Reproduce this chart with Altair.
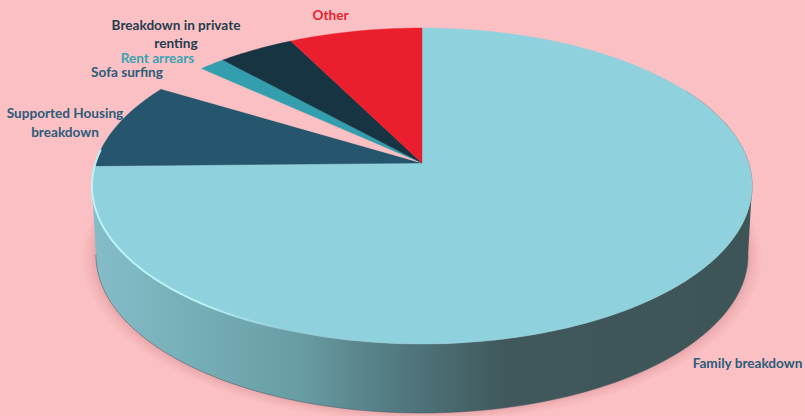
import math
import altair as alt

# Causes of homelessness, share of cases in percent, clockwise from 12 o'clock
slices = ["Family breakdown", "Supported Housing breakdown", "Sofa surfing",
          "Rent arrears", "Breakdown in private renting", "Other"]
shares = [74.7, 8.9, 3.1, 1.5, 4.3, 7.5]
slice_colors = ["#8fd1dc", "#25566e", "#fbc0c3", "#339fae", "#173443", "#ea1e2c"]

label_lines = [
    ("Other", 330.5, 16, "#ea1e2c"),
    ("Breakdown in private", 176, 26, "#1f3d4e"),
    ("renting", 176, 44, "#1f3d4e"),
    ("Rent arrears", 157.5, 59, "#3aa3b4"),
    ("Sofa surfing", 127, 73, "#2b5c7a"),
    ("Supported Housing", 65, 114, "#2b5c7a"),
    ("breakdown", 65, 133, "#2b5c7a"),
    ("Family breakdown", 747.5, 364, "#2b5c7a"),
]

WIDTH, HEIGHT = 805, 416
BACKGROUND = "#fbc0c3"

# Tilted-disc projection: the unit circle seen in perspective
CX, APEX_Y = 422, 163
RX, RY, TILT = 326.5, 130.9, 0.1456
DEPTH, BOTTOM_SHRINK = 69, 0.988


def project(theta, radius=1.0, drop=0.0, shrink=1.0, grow=0.0):
    """Map an angle (clockwise from 12 o'clock) on the disc to the canvas."""
    u = radius * math.sin(theta)
    v = radius * math.cos(theta)
    w = 1 + TILT * v
    x = CX + (RX * shrink + grow) * u / w
    y = (APEX_Y - (RY + grow * 0.45) * v) / w + drop
    return [round(x, 2), round(y, 2)]


def arc(start, end, n=120, **kw):
    return [project(start + (end - start) * i / n, **kw) for i in range(n + 1)]


def feature(kind, coords, **props):
    return {"type": "Feature", "properties": props,
            "geometry": {"type": kind, "coordinates": coords}}


def shapes(features, **mark):
    return alt.Chart(alt.Data(values=features)).mark_geoshape(**mark).project(
        type="identity", scale=1, translate=[0, 0])


# Pie slices on the top face
total = sum(shares)
slice_features = []
cumulative = 0.0
for name, share in zip(slices, shares):
    a0 = 2 * math.pi * cumulative / total
    cumulative += share
    a1 = 2 * math.pi * cumulative / total
    n = max(8, int(share * 4))
    ring = [project(0, radius=0)] + arc(a0, a1, n=n) + [project(0, radius=0)]
    slice_features.append(feature("Polygon", [ring], slice=name))

top = shapes(slice_features, strokeWidth=0.4).encode(
    color=alt.Color("properties.slice:N",
                    scale=alt.Scale(domain=slices, range=slice_colors),
                    legend=None),
    stroke=alt.Stroke("properties.slice:N",
                      scale=alt.Scale(domain=slices, range=slice_colors),
                      legend=None),
)

# Visible side wall: front half of the rim down to the lower rim
widest = math.acos(-TILT)
upper_edge = arc(widest, 2 * math.pi - widest)
lower_edge = arc(widest, 2 * math.pi - widest, drop=DEPTH, shrink=BOTTOM_SHRINK)
wall_ring = upper_edge + lower_edge[::-1] + [upper_edge[0]]

wall_gradient = alt.LinearGradient(
    gradient="linear", x1=0, x2=1, y1=0, y2=0,
    stops=[
        alt.GradientStop(offset=0.0, color="#84bcc8"),
        alt.GradientStop(offset=0.16, color="#76aeb7"),
        alt.GradientStop(offset=0.315, color="#689da4"),
        alt.GradientStop(offset=0.436, color="#567f86"),
        alt.GradientStop(offset=0.54, color="#486a6f"),
        alt.GradientStop(offset=0.625, color="#40585b"),
        alt.GradientStop(offset=1.0, color="#3e5558"),
    ],
)
wall = shapes([feature("Polygon", [wall_ring])], fill=wall_gradient, strokeWidth=0)

# Soft shadow cast around the lower rim, built up from translucent discs
shadow_layers = []
for grow in (13, 10, 7.5, 5, 3, 1.5):
    disc = arc(0, 2 * math.pi, n=180, drop=DEPTH + grow * 0.15,
               shrink=BOTTOM_SHRINK, grow=grow)
    shadow_layers.append(shapes([feature("Polygon", [disc])],
                                fill="#b5505f", opacity=0.035, strokeWidth=0))

# Bright bevel along the front-left rim, fading towards the right
bevel_gradient = alt.LinearGradient(
    gradient="linear", x1=0, x2=1, y1=0, y2=0,
    stops=[
        alt.GradientStop(offset=0.0, color="rgba(190,245,250,0.95)"),
        alt.GradientStop(offset=0.55, color="rgba(190,245,250,0.9)"),
        alt.GradientStop(offset=1.0, color="rgba(190,245,250,0)"),
    ],
)
bevel = shapes(
    [feature("LineString", arc(math.radians(200), math.radians(275)))],
    filled=False, stroke=bevel_gradient, strokeWidth=2,
)

# Darker soft line where the wall meets the ground and the right-hand rim
ground_edge = shapes(
    [feature("LineString", arc(widest, 2 * math.pi - widest, drop=DEPTH, shrink=BOTTOM_SHRINK))],
    filled=False, stroke="#3f5f66", strokeOpacity=0.55, strokeWidth=1,
)
right_edge = shapes(
    [feature("LineString", arc(math.radians(60), math.radians(175)))],
    filled=False, stroke="#3e5558", strokeOpacity=0.45, strokeWidth=1.2,
)

# Category labels
labels = [
    alt.Chart(alt.Data(values=[{}])).mark_text(
        text=text, font="Lato", fontWeight="bold", fontSize=13.6, color=color,
        align="center", baseline="middle",
    ).encode(x=alt.value(x), y=alt.value(y))
    for text, x, y, color in label_lines
]

chart = alt.layer(
    *shadow_layers, wall, right_edge, ground_edge, top, bevel, *labels
).properties(
    width=WIDTH, height=HEIGHT, background=BACKGROUND, padding=0,
    autosize=alt.AutoSizeParams(type="none"),
).configure_view(stroke=None)

chart.save("out.html", embed_options={"renderer": "svg", "actions": False})
